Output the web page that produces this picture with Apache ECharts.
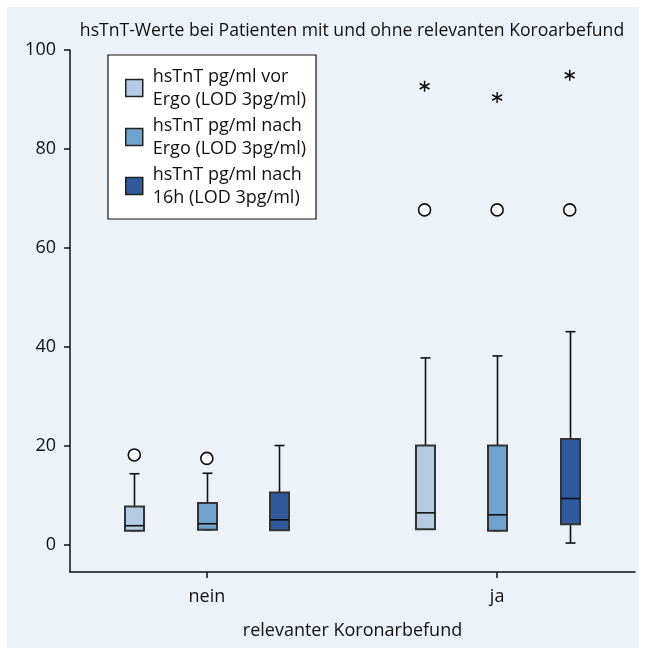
<!DOCTYPE html>
<html><head><meta charset="utf-8">
<script src="https://cdn.jsdelivr.net/npm/echarts@6/dist/echarts.min.js"></script>
<style>html,body{margin:0;padding:0;background:#fff}#c{width:645px;height:650px}</style>
</head><body><div id="c"></div><script>
// ---- data ----
const groups = ['nein', 'ja'];
const seriesNames = [
  'hsTnT pg/ml vor\nErgo (LOD 3pg/ml)',
  'hsTnT pg/ml nach\nErgo (LOD 3pg/ml)',
  'hsTnT pg/ml nach\n16h (LOD 3pg/ml)'
];
const seriesColors = ['#b3cce4', '#6fa3cf', '#2f5a9e'];
// [min, Q1, median, Q3, max] for nein, ja
const vorErgo  = [[2.9, 2.9, 3.9, 7.8, 14.4], [3.2, 3.2, 6.5, 20.1, 37.8]];
const nachErgo = [[3.1, 3.1, 4.3, 8.5, 14.5], [2.9, 2.9, 6.1, 20.1, 38.2]];
const nach16h  = [[3.0, 3.0, 5.1, 10.6, 20.1], [0.4, 4.2, 9.4, 21.4, 43.1]];
// outliers (circles) for nein, ja
const outVor      = [[18.2], [67.7]];
const outNachErgo = [[17.5], [67.7]];
const outNach16h  = [[], [67.7]];
// extreme values (asterisks) for nein, ja
const extVor      = [[], [92.7]];
const extNachErgo = [[], [90.4]];
const extNach16h  = [[], [94.9]];
const yTicks = [0, 20, 40, 60, 80, 100];
const yMin = -5.45, yMax = 100;

// ---- build ----
const boxSets = [vorErgo, nachErgo, nach16h];
const outSets = [outVor, outNachErgo, outNach16h];
const extSets = [extVor, extNachErgo, extNach16h];
const slotsPerGroup = 4; // 3 boxes + gap
const slotCount = groups.length * slotsPerGroup - 1;
const slotNames = [];
for (let i = 0; i < slotCount; i++) slotNames.push('s' + i);
const slotLabel = {};
groups.forEach((g, gi) => { slotLabel[gi * slotsPerGroup + 1] = g; });

const FONT = '"Open Sans", sans-serif';
const INK = '#111';

function renderBox(params, api) {
  const x = api.value(0);
  const pMin = api.coord([x, api.value(1)]);
  const pQ1 = api.coord([x, api.value(2)]);
  const pMed = api.coord([x, api.value(3)]);
  const pQ3 = api.coord([x, api.value(4)]);
  const pMax = api.coord([x, api.value(5)]);
  const cx = Math.round(pMin[0]) + 0.5;
  const hw = 9.5, cap = 5;
  const ln = (x1, y1, x2, y2) => ({ type: 'line', shape: { x1, y1, x2, y2 }, style: { stroke: INK, lineWidth: 1.6 } });
  return {
    type: 'group', children: [
      ln(cx, pQ3[1], cx, pMax[1]),
      ln(cx - cap, pMax[1], cx + cap, pMax[1]),
      ln(cx, pQ1[1], cx, pMin[1]),
      ln(cx - cap, pMin[1], cx + cap, pMin[1]),
      { type: 'rect', shape: { x: cx - hw, y: pQ3[1], width: 2 * hw, height: pQ1[1] - pQ3[1] },
        style: { fill: api.visual('color'), stroke: '#333', lineWidth: 2 } },
      ln(cx - hw, pMed[1], cx + hw, pMed[1])
    ]
  };
}

const series = [];
boxSets.forEach((set, s) => {
  series.push({
    type: 'custom', name: seriesNames[s], xAxisIndex: 1, yAxisIndex: 1,
    itemStyle: { color: seriesColors[s] },
    renderItem: renderBox,
    encode: { x: 0, y: [1, 2, 3, 4, 5] },
    data: set.map((v, gi) => [gi * slotsPerGroup + s].concat(v)),
    silent: true
  });
});
outSets.forEach((set, s) => {
  const data = [];
  set.forEach((vals, gi) => vals.forEach(v => data.push([gi * slotsPerGroup + s, v])));
  series.push({
    type: 'scatter', name: 'Ausreißer ' + (s + 1), xAxisIndex: 1, yAxisIndex: 1,
    symbol: 'circle', symbolSize: 12, z: 5, silent: true,
    itemStyle: { color: '#fff', borderColor: INK, borderWidth: 1.6, opacity: 1 },
    data
  });
});
extSets.forEach((set, s) => {
  const data = [];
  set.forEach((vals, gi) => vals.forEach(v => data.push([gi * slotsPerGroup + s, v])));
  series.push({
    type: 'scatter', name: 'Extremwerte ' + (s + 1), xAxisIndex: 1, yAxisIndex: 1,
    symbol: 'path://M5,0L5,10M0.67,2.5L9.33,7.5M0.67,7.5L9.33,2.5', symbolSize: [10, 11], z: 5, silent: true,
    itemStyle: { color: 'transparent', borderColor: INK, borderWidth: 1.6, opacity: 1 },
    data
  });
});

const option = {
  animation: false,
  textStyle: { fontFamily: FONT },
  graphic: [{ type: 'rect', left: 7, top: 7, shape: { width: 632, height: 641 }, style: { fill: '#edf2f9' }, z: -100, silent: true }],
  title: {
    text: 'hsTnT-Werte bei Patienten mit und ohne relevanten Koroarbefund',
    left: 352, top: 22, padding: 0, textAlign: 'center',
    textStyle: { fontFamily: FONT, fontSize: 17.6, fontWeight: 'normal', color: INK }
  },
  legend: {
    data: seriesNames, orient: 'vertical', left: 108, top: 55,
    padding: [10, 10, 10, 17], itemGap: 3, itemWidth: 17, itemHeight: 17,
    icon: 'rect', backgroundColor: '#fff', borderColor: INK, borderWidth: 1.2,
    itemStyle: { borderColor: '#222', borderWidth: 1.5 },
    textStyle: { fontFamily: FONT, fontSize: 18, lineHeight: 23, color: INK, padding: [0, 0, 0, 5] },
    selectedMode: false
  },
  grid: [
    { left: 70, right: 10, top: 50, bottom: 78 },
    { left: 98, right: 39, top: 50, bottom: 78 }
  ],
  xAxis: [
    { gridIndex: 0, type: 'category', data: ['x'],
      axisLine: { show: true, onZero: false, lineStyle: { color: INK, width: 1.5 } },
      axisTick: { show: false }, axisLabel: { show: false }, splitLine: { show: false },
      name: 'relevanter Koronarbefund', nameLocation: 'middle', nameGap: 50,
      nameTextStyle: { fontFamily: FONT, fontSize: 18, color: INK } },
    { gridIndex: 1, type: 'category', data: slotNames,
      axisLine: { show: false, onZero: false },
      axisTick: { show: true, alignWithLabel: true, length: 6, interval: (i) => slotLabel[i] !== undefined, lineStyle: { color: INK, width: 1.5 } },
      axisLabel: { show: true, interval: 0, margin: 16, formatter: (v, i) => slotLabel[i] || '', fontFamily: FONT, fontSize: 18, color: INK },
      splitLine: { show: false } }
  ],
  yAxis: [
    { gridIndex: 0, type: 'value', min: yMin, max: yMax,
      axisLine: { show: true, lineStyle: { color: INK, width: 1.5 } },
      axisTick: { show: true, length: 6, customValues: yTicks, lineStyle: { color: INK, width: 1.5 } },
      axisLabel: { customValues: yTicks, margin: 14, fontFamily: FONT, fontSize: 18, color: INK },
      splitLine: { show: false } },
    { gridIndex: 1, type: 'value', min: yMin, max: yMax, show: false, splitLine: { show: false } }
  ],
  series
};
const chart = echarts.init(document.getElementById('c'), null, { renderer: 'canvas' });
chart.setOption(option);
</script></body></html>
